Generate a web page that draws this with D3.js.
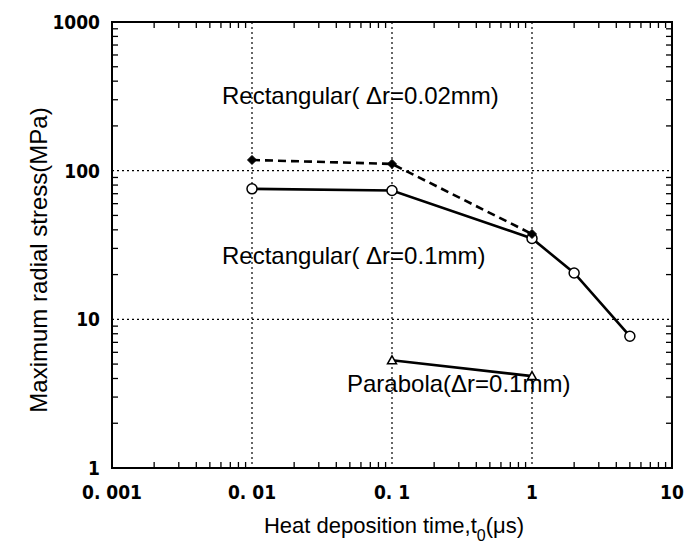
<!DOCTYPE html>
<html>
<head>
<meta charset="utf-8">
<script src="https://cdn.jsdelivr.net/npm/d3@7"></script>
<style>
  body { margin: 0; background: #fff; }
  .tick-label { font-family: "Liberation Sans Narrow", "DejaVu Sans Condensed", "Liberation Sans", sans-serif; font-weight: bold; font-size: 19px; fill: #000; }
  .lbl { font-family: "Liberation Sans", Arial, sans-serif; font-size: 24px; fill: #000; }
  .axis-title { font-family: "Liberation Sans", Arial, sans-serif; font-size: 22px; fill: #000; }
</style>
</head>
<body>
<div class="chart"></div>
<script>
// max radial stress vs heat deposition time (log-log)

var svgWidth = 685;
var svgHeight = 552;

var margin = { top: 22, right: 13, bottom: 84, left: 112 };
var width = svgWidth - margin.left - margin.right;
var height = svgHeight - margin.top - margin.bottom;

// data
var xTickValues = [0.001, 0.01, 0.1, 1, 10];
var xTickLabels = ["0. 001", "0. 01", "0. 1", "1", "10"];
var yTickValues = [1, 10, 100, 1000];
var yTickLabels = ["1", "10", "100", "1000"];

var rect002Time = [0.01, 0.1, 1];
var rect002Stress = [118, 111, 37.5];

var rect01Time = [0.01, 0.1, 1, 2, 5];
var rect01Stress = [75.5, 73.5, 35, 20.5, 7.7];

var paraTime = [0.1, 1];
var paraStress = [5.3, 4.15];

var svg = d3.select(".chart")
  .append("svg")
  .attr("width", svgWidth)
  .attr("height", svgHeight);

var chartGroup = svg.append("g")
  .attr("transform", `translate(${margin.left}, ${margin.top})`);

var xScale = d3.scaleLog().domain([0.001, 10]).range([0, width]);
var yScale = d3.scaleLog().domain([1, 1000]).range([height, 0]);

// dotted grid at inner decades
chartGroup.selectAll(".vgrid")
  .data([0.01, 0.1, 1])
  .enter().append("line")
  .attr("x1", d => xScale(d)).attr("x2", d => xScale(d))
  .attr("y1", 0).attr("y2", height)
  .attr("stroke", "#000").attr("stroke-width", 1.2)
  .attr("stroke-dasharray", "2,3");

chartGroup.selectAll(".hgrid")
  .data([10, 100])
  .enter().append("line")
  .attr("x1", 0).attr("x2", width)
  .attr("y1", d => yScale(d)).attr("y2", d => yScale(d))
  .attr("stroke", "#000").attr("stroke-width", 1.2)
  .attr("stroke-dasharray", "2,3");

// minor ticks, pointing inward, on all four sides
function minors(domainLo, domainHi) {
  var out = [];
  for (var dec = domainLo; dec < domainHi; dec *= 10) {
    for (var k = 2; k <= 9; k++) out.push(dec * k);
  }
  return out;
}
var xMinor = minors(0.001, 10);
var yMinor = minors(1, 1000);
var tl = 6;

chartGroup.selectAll(".xminB").data(xMinor).enter().append("line")
  .attr("x1", d => xScale(d)).attr("x2", d => xScale(d))
  .attr("y1", height).attr("y2", height - tl)
  .attr("stroke", "#000").attr("stroke-width", 1.3);
chartGroup.selectAll(".xminT").data(xMinor).enter().append("line")
  .attr("x1", d => xScale(d)).attr("x2", d => xScale(d))
  .attr("y1", 0).attr("y2", tl)
  .attr("stroke", "#000").attr("stroke-width", 1.3);
chartGroup.selectAll(".yminL").data(yMinor).enter().append("line")
  .attr("x1", 0).attr("x2", tl)
  .attr("y1", d => yScale(d)).attr("y2", d => yScale(d))
  .attr("stroke", "#000").attr("stroke-width", 1.3);
chartGroup.selectAll(".yminR").data(yMinor).enter().append("line")
  .attr("x1", width).attr("x2", width - tl)
  .attr("y1", d => yScale(d)).attr("y2", d => yScale(d))
  .attr("stroke", "#000").attr("stroke-width", 1.3);

// frame
chartGroup.append("rect")
  .attr("x", 0).attr("y", 0)
  .attr("width", width).attr("height", height)
  .attr("fill", "none").attr("stroke", "#000").attr("stroke-width", 2);

// tick labels
chartGroup.selectAll(".xlab").data(xTickValues).enter().append("text")
  .attr("class", "tick-label")
  .attr("x", d => xScale(d))
  .attr("y", height + 31)
  .attr("text-anchor", "middle")
  .text((d, i) => xTickLabels[i]);

chartGroup.selectAll(".ylab").data(yTickValues).enter().append("text")
  .attr("class", "tick-label")
  .attr("x", -12)
  .attr("y", d => yScale(d) + 7)
  .attr("text-anchor", "end")
  .text((d, i) => yTickLabels[i]);

// series
var line = d3.line()
  .x(d => xScale(d[0]))
  .y(d => yScale(d[1]));

var rect002 = d3.zip(rect002Time, rect002Stress);
var rect01 = d3.zip(rect01Time, rect01Stress);
var para = d3.zip(paraTime, paraStress);

chartGroup.append("path").datum(rect002)
  .attr("d", line).attr("fill", "none")
  .attr("stroke", "#000").attr("stroke-width", 2.6)
  .attr("stroke-dasharray", "8,5");

chartGroup.append("path").datum(rect01)
  .attr("d", line).attr("fill", "none")
  .attr("stroke", "#000").attr("stroke-width", 2.6);

chartGroup.append("path").datum(para)
  .attr("d", line).attr("fill", "none")
  .attr("stroke", "#000").attr("stroke-width", 2.6);

// markers
chartGroup.selectAll(".circ").data(rect01).enter().append("circle")
  .attr("cx", d => xScale(d[0])).attr("cy", d => yScale(d[1]))
  .attr("r", 5)
  .attr("fill", "#fff").attr("stroke", "#000").attr("stroke-width", 1.5);

chartGroup.selectAll(".diam").data(rect002).enter().append("path")
  .attr("transform", d => `translate(${xScale(d[0])}, ${yScale(d[1])})`)
  .attr("d", "M0,-4.5L4.5,0L0,4.5L-4.5,0Z")
  .attr("fill", "#000").attr("stroke", "#000").attr("stroke-width", 1);

chartGroup.selectAll(".tri").data(para).enter().append("path")
  .attr("transform", d => `translate(${xScale(d[0])}, ${yScale(d[1])})`)
  .attr("d", "M0,-4.5L4.5,3.5L-4.5,3.5Z")
  .attr("fill", "#fff").attr("stroke", "#000").attr("stroke-width", 1.5);

// series annotations
svg.append("text").attr("class", "lbl")
  .attr("x", 222).attr("y", 104)
  .text("Rectangular( \u0394r=0.02mm)");

svg.append("text").attr("class", "lbl")
  .attr("x", 222).attr("y", 264)
  .text("Rectangular( \u0394r=0.1mm)");

svg.append("text").attr("class", "lbl")
  .attr("x", 347).attr("y", 392)
  .text("Parabola(\u0394r=0.1mm)");

// axis titles
svg.append("text").attr("class", "axis-title")
  .attr("transform", "translate(47, 260) rotate(-90)")
  .attr("text-anchor", "middle")
  .style("font-size", "24px")
  .text("Maximum radial stress(MPa)");

var xTitle = svg.append("text").attr("class", "axis-title")
  .attr("x", 394).attr("y", 533)
  .attr("text-anchor", "middle");
xTitle.append("tspan").text("Heat deposition time,t");
xTitle.append("tspan").attr("dy", 8).attr("font-size", "16px").text("0");
xTitle.append("tspan").attr("dy", -8).text("(\u03bcs)");
</script>
</body>
</html>
